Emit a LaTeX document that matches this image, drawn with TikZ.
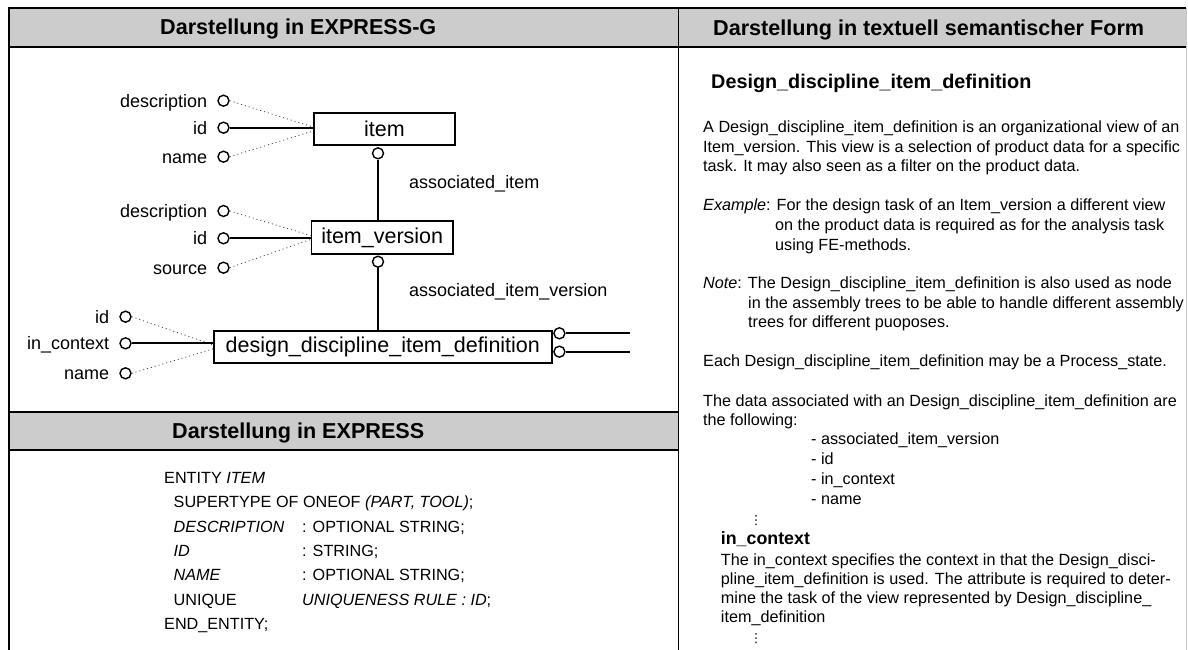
\documentclass[tikz,border=0pt]{standalone}
\usepackage{fontspec}
\setmainfont{Liberation Sans}
\newfontfamily\dotsfont{DejaVu Sans}
\definecolor{hdrgray}{RGB}{204,204,204}
\definecolor{edgegray}{RGB}{200,200,200}
\tikzset{
  frame/.style={line width=2pt, black},
  divline/.style={line width=1.3pt, black},
  hdr/.style={font=\fontsize{21.6}{26}\selectfont\bfseries, inner sep=0pt, anchor=base west},
  ent/.style={draw, line width=1.8pt, inner sep=0pt, font=\fontsize{21.5}{24}\selectfont},
  attr/.style={circle, draw, line width=1.4pt, minimum size=11pt, inner sep=0pt, fill=white},
  lbl/.style={font=\fontsize{18}{21}\selectfont, inner sep=0pt},
  conn/.style={line width=1.5pt},
  idline/.style={line width=2pt},
  dotl/.style={line width=0.8pt, dash pattern=on 1pt off 3pt, black!75},
  txt/.style={font=\fontsize{16.2}{19.5}\selectfont, inner sep=0pt, anchor=base west},
  ttl/.style={font=\fontsize{19.8}{24}\selectfont\bfseries, inner sep=0pt, anchor=base west},
  sub/.style={font=\fontsize{17.8}{22}\selectfont\bfseries, inner sep=0pt, anchor=base west},
  vd/.style={font=\dotsfont\fontsize{12.5}{14}\selectfont, inner sep=0pt, anchor=base}
}
\begin{document}
\begin{tikzpicture}[x=1pt,y=-1pt]
\useasboundingbox (0,0) rectangle (1188,650);
% panels
\fill[hdrgray] (8.5,8.5) rectangle (1186,46.7);
\fill[hdrgray] (8.5,412) rectangle (678.5,450);
\draw[edgegray, line width=1pt] (1186.5,8.5) -- (1186.5,650);
\draw[frame] (7.5,8.5) -- (1186,8.5);
\draw[frame] (7.5,46.7) -- (1186,46.7);
\draw[frame] (8.5,8.5) -- (8.5,650);
\draw[divline] (678.5,8.5) -- (678.5,650);
\draw[frame] (8.5,412) -- (678.5,412);
\draw[frame] (8.5,450) -- (678.5,450);
% headers
\node[hdr] (h1) at (160,35) {Darstellung in EXPRESS-G};
\node[hdr] (h2) at (713,36) {Darstellung in textuell semantischer Form};
\node[hdr] (h3) at (172,438) {Darstellung in EXPRESS};
% entities
\node[ent, minimum width=141pt, minimum height=32pt] (item) at (384.5,129) {item};
\node[ent, minimum width=141.6pt, minimum height=33pt] (iv) at (382.2,237.5) {item\_version};
\node[ent, minimum width=337.6pt, minimum height=31.7pt] (ddid) at (382.8,346.9) {design\_discipline\_item\_definition};
% relationship circles and connectors
\node[attr] (c1) at (378,153.3) {};
\node[attr] (c2) at (378,261.7) {};
\draw[conn] (c1.south) -- (c1.south |- iv.north);
\draw[conn] (c2.south) -- (c2.south |- ddid.north);
\node[lbl, anchor=base west] (rl1) at (409,188) {associated\_item};
\node[lbl, anchor=base west] (rl2) at (409,296.7) {associated\_item\_version};
% right side of ddid
\node[attr] (r1) at (559.4,333.3) {};
\node[attr] (r2) at (559.4,351.7) {};
\coordinate (e1) at (630,333.3);
\coordinate (e2) at (630,351.7);
\draw[idline] (r1.east) -- (e1);
\draw[idline] (r2.east) -- (e2);
% attributes of item
\node[attr] (a1d) at (223.5,100.7) {};
\node[attr] (a1i) at (223.5,127.7) {};
\node[attr] (a1n) at (223.5,156.7) {};
\node[lbl, anchor=base east] (l1d) at ([xshift=-10pt,yshift=-6.4pt]a1d.west) {description};
\node[lbl, anchor=base east] (l1i) at ([xshift=-10pt,yshift=-6.4pt]a1i.west) {id};
\node[lbl, anchor=base east] (l1n) at ([xshift=-10pt,yshift=-6.4pt]a1n.west) {name};
\draw[dotl] (a1d.east) -- ([yshift=2pt]item.west);
\draw[idline] (a1i.east) -- (a1i.east -| item.west);
\draw[dotl] (a1n.east) -- ([yshift=-2pt]item.west);
% attributes of item_version
\node[attr] (a2d) at (223.5,211) {};
\node[attr] (a2i) at (223.5,238.3) {};
\node[attr] (a2s) at (223.5,267.7) {};
\node[lbl, anchor=base east] (l2d) at ([xshift=-10pt,yshift=-6.4pt]a2d.west) {description};
\node[lbl, anchor=base east] (l2i) at ([xshift=-10pt,yshift=-6.4pt]a2i.west) {id};
\node[lbl, anchor=base east] (l2s) at ([xshift=-10pt,yshift=-6.4pt]a2s.west) {source};
\draw[dotl] (a2d.east) -- ([yshift=2pt]iv.west);
\draw[idline] (a2i.east) -- (a2i.east -| iv.west);
\draw[dotl] (a2s.east) -- ([yshift=-2pt]iv.west);
% attributes of ddid
\node[attr] (a3i) at (125.5,316.7) {};
\node[attr] (a3c) at (125.5,343.3) {};
\node[attr] (a3n) at (125.5,373.3) {};
\node[lbl, anchor=base east] (l3i) at ([xshift=-10pt,yshift=-6.4pt]a3i.west) {id};
\node[lbl, anchor=base east] (l3c) at ([xshift=-10pt,yshift=-6.4pt]a3c.west) {in\_context};
\node[lbl, anchor=base east] (l3n) at ([xshift=-10pt,yshift=-6.4pt]a3n.west) {name};
\draw[dotl] (a3i.east) -- ([yshift=2pt]ddid.west);
\draw[idline] (a3c.east) -- (a3c.east -| ddid.west);
\draw[dotl] (a3n.east) -- ([yshift=-2pt]ddid.west);
% EXPRESS text
\node[txt] (x1) at (164,483) {ENTITY \textit{ITEM}};
\node[txt] (x2) at (173.5,507) {SUPERTYPE OF ONEOF \textit{(PART, TOOL)};};
\node[txt] (x3a) at (173.5,532) {\textit{DESCRIPTION}};
\node[txt] (x3b) at (302,532) {: OPTIONAL STRING;};
\node[txt] (x4a) at (173.5,556) {\textit{ID}};
\node[txt] (x4b) at (302,556) {: STRING;};
\node[txt] (x5a) at (173.5,580) {\textit{NAME}};
\node[txt] (x5b) at (302,580) {: OPTIONAL STRING;};
\node[txt] (x6a) at (173.5,605) {UNIQUE};
\node[txt] (x6b) at (302,605) {\textit{UNIQUENESS RULE : ID};};
\node[txt] (x7) at (164,629) {END\_ENTITY;};
% right panel text
\node[ttl] (t0) at (711,88.3) {Design\_discipline\_item\_definition};
\node[txt] (p1) at (703,132.7) {A Design\_discipline\_item\_definition is an organizational view of an};
\node[txt] (p2) at (703,152.3) {Item\_version. This view is a selection of product data for a specific};
\node[txt] (p3) at (703,171.7) {task. It may also seen as a filter on the product data.};
\node[txt] (ex1) at (703,210.7) {\textit{Example}: For the design task of an Item\_version a different view};
\node[txt] (ex2) at (775,230.7) {on the product data is required as for the analysis task};
\node[txt] (ex3) at (775,250) {using FE-methods.};
\node[txt] (n1) at (703,288.7) {\textit{Note}: The Design\_discipline\_item\_definition is also used as node};
\node[txt] (n2) at (748,308.3) {in the assembly trees to be able to handle different assembly};
\node[txt] (n3) at (748,327.7) {trees for different puoposes.};
\node[txt] (q1) at (703,366.7) {Each Design\_discipline\_item\_definition may be a Process\_state.};
\node[txt] (q2) at (703,406) {The data associated with an Design\_discipline\_item\_definition are};
\node[txt] (q3) at (703,425.3) {the following:};
\node[txt] (li1) at (811,444.3) {- associated\_item\_version};
\node[txt] (li2) at (811,464.3) {- id};
\node[txt] (li3) at (811,484) {- in\_context};
\node[txt] (li4) at (811,504) {- name};
\node[vd] (vd1) at (756,524.5) {⋮};
\node[sub] (s1) at (720.7,544.3) {in\_context};
\node[txt] (s2) at (720.7,565) {The in\_context specifies the context in that the Design\_disci-};
\node[txt] (s3) at (720.7,584) {pline\_item\_definition is used. The attribute is required to deter-};
\node[txt] (s4) at (720.7,603.3) {mine the task of the view represented by Design\_discipline\_};
\node[txt] (s5) at (720.7,622.7) {item\_definition};
\node[vd] (vd2) at (756,642) {⋮};
\end{tikzpicture}
\end{document}
